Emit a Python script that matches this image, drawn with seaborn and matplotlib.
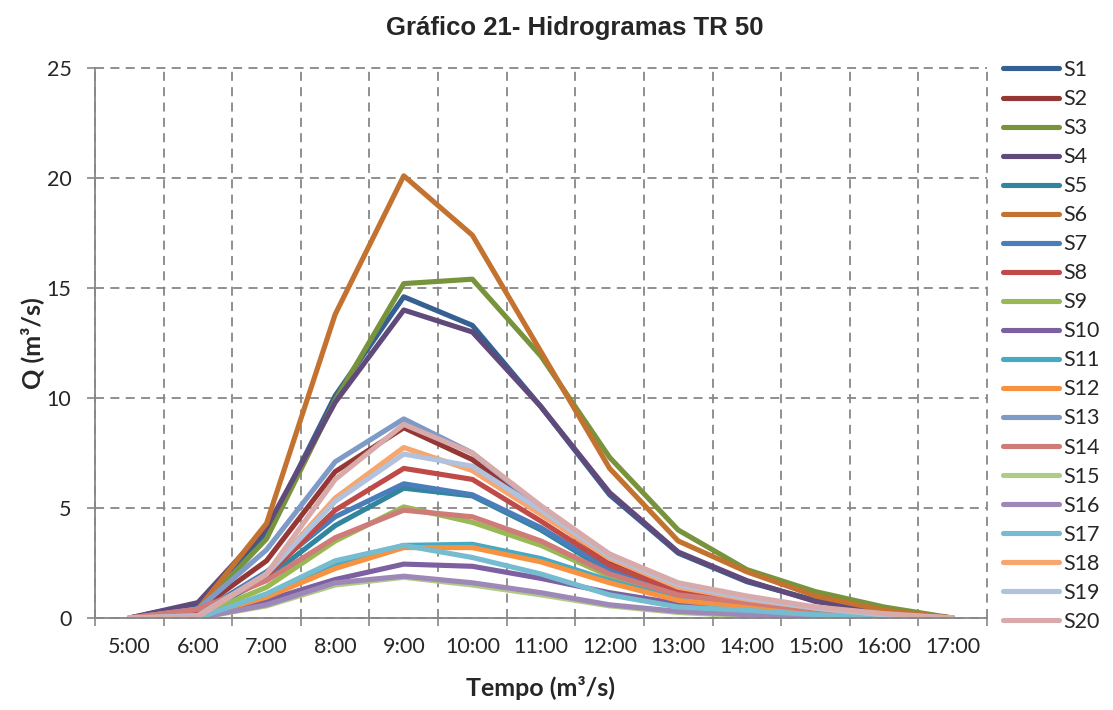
import pandas as pd
import matplotlib
matplotlib.use("Agg")
import matplotlib.pyplot as plt
import seaborn as sns
from matplotlib.ticker import FixedLocator, NullFormatter

times = ['5:00', '6:00', '7:00', '8:00', '9:00', '10:00', '11:00', '12:00',
         '13:00', '14:00', '15:00', '16:00', '17:00']

S1 = [0, 0.65, 3.9, 10.1, 14.6, 13.3, 9.6, 5.6, 2.95, 1.65, 0.8, 0.25, 0]
S2 = [0, 0.35, 2.6, 6.65, 8.65, 7.2, 4.8, 2.6, 1.3, 0.8, 0.4, 0.15, 0]
S3 = [0, 0.3, 3.6, 9.9, 15.2, 15.4, 11.9, 7.3, 4.0, 2.2, 1.2, 0.5, 0]
S4 = [0, 0.7, 4.1, 9.8, 14.0, 13.0, 9.6, 5.7, 3.0, 1.7, 0.75, 0.3, 0]
S5 = [0, 0.15, 1.8, 4.2, 5.9, 5.55, 4.0, 2.1, 1.05, 0.65, 0.3, 0.1, 0]
S6 = [0, 0.4, 4.3, 13.8, 20.1, 17.4, 12.1, 6.8, 3.5, 2.1, 1.0, 0.35, 0]
S7 = [0, 0.2, 2.1, 4.6, 6.1, 5.6, 4.1, 2.2, 1.1, 0.7, 0.3, 0.1, 0]
S8 = [0, 0.2, 1.9, 4.9, 6.8, 6.3, 4.4, 2.4, 1.2, 0.75, 0.35, 0.1, 0]
S9 = [0, 0.1, 1.4, 3.5, 5.05, 4.35, 3.3, 1.9, 1.0, 0.6, 0.3, 0.1, 0]
S10 = [0, 0.05, 0.8, 1.75, 2.45, 2.35, 1.8, 1.15, 0.65, 0.4, 0.2, 0.05, 0]
S11 = [0, 0.05, 1.0, 2.45, 3.3, 3.35, 2.7, 1.7, 0.85, 0.5, 0.25, 0.05, 0]
S12 = [0, 0.05, 0.95, 2.25, 3.2, 3.2, 2.55, 1.6, 0.8, 0.5, 0.25, 0.05, 0]
S13 = [0, 0.4, 3.1, 7.1, 9.05, 7.5, 5.0, 2.9, 1.5, 0.9, 0.45, 0.15, 0]
S14 = [0, 0.4, 1.7, 3.65, 4.9, 4.6, 3.5, 2.0, 1.05, 0.7, 0.35, 0.1, 0]
S15 = [0, 0.0, 0.55, 1.5, 1.85, 1.5, 1.05, 0.55, 0.25, 0.1, 0.05, 0.0, 0]
S16 = [0, 0.0, 0.6, 1.6, 1.9, 1.6, 1.15, 0.6, 0.3, 0.15, 0.05, 0.0, 0]
S17 = [0, 0.0, 1.1, 2.6, 3.3, 2.75, 2.0, 1.05, 0.5, 0.35, 0.15, 0.05, 0]
S18 = [0, 0.1, 2.0, 5.45, 7.75, 6.7, 4.7, 2.7, 1.4, 0.85, 0.45, 0.15, 0]
S19 = [0, 0.1, 2.0, 5.3, 7.45, 6.9, 4.9, 2.8, 1.5, 0.9, 0.45, 0.15, 0]
S20 = [0, 0.05, 2.0, 6.3, 8.8, 7.5, 5.1, 2.9, 1.6, 1.0, 0.5, 0.2, 0]

series = [S1, S2, S3, S4, S5, S6, S7, S8, S9, S10,
          S11, S12, S13, S14, S15, S16, S17, S18, S19, S20]
names = ['S%d' % (i + 1) for i in range(len(series))]

colors = ['#376092', '#953735', '#77933C', '#604A7B', '#31859C', '#C3732F',
          '#4A7EBB', '#BE4B48', '#98B954', '#7D60A0', '#46AAC5', '#F69240',
          '#7E9BC8', '#CE7B79', '#B0CB86', '#9E88B8', '#75BCD0', '#F8A56E',
          '#B0C2DD', '#D9AAAA']

rows = []
for name, vals in zip(names, series):
    for i, v in enumerate(vals):
        rows.append({'serie': name, 'pos': i, 'Q': v})
df = pd.DataFrame(rows)

sns.set_style("white")
plt.rcParams['font.family'] = ['Lato', 'DejaVu Sans']

fig = plt.figure(figsize=(11.13, 7.10), dpi=100)
ax = fig.add_axes([95 / 1113, 1 - 618 / 710, (987 - 95) / 1113, (618 - 68) / 710])

sns.lineplot(data=df, x='pos', y='Q', hue='serie', hue_order=names,
             palette=colors, linewidth=3.7, sort=False, legend=False,
             solid_capstyle='round', solid_joinstyle='round', ax=ax)

grid_c = '#878787'
ax.set_xlim(-0.5, len(times) - 0.5)
ax.set_ylim(0, 25)
ax.xaxis.set_major_locator(FixedLocator([i - 0.5 for i in range(len(times) + 1)]))
ax.xaxis.set_major_formatter(NullFormatter())
ax.xaxis.set_minor_locator(FixedLocator(list(range(len(times)))))
ax.set_xticklabels(times, minor=True)
ax.set_yticks([0, 5, 10, 15, 20, 25])
ax.tick_params(axis='x', which='major', length=6, width=1.2, color=grid_c, direction='out', bottom=True)
ax.tick_params(axis='x', which='minor', length=0, labelsize=15.5, pad=14)
ax.tick_params(axis='y', which='major', length=6, width=1.2, color=grid_c, direction='out', left=True,
               labelsize=15.5, pad=11)

ax.grid(True, which='major', color=grid_c, linestyle=(0, (5, 3.5)), linewidth=1.3)
ax.set_axisbelow(True)
for s in ['top', 'right']:
    ax.spines[s].set_visible(False)
for s in ['left', 'bottom']:
    ax.spines[s].set_color(grid_c)
    ax.spines[s].set_linewidth(1.3)
for gl in ax.xaxis.get_gridlines() + ax.yaxis.get_gridlines():
    gl.set_clip_on(False)

ax.set_xlabel('Tempo (m³/s)', fontsize=18, fontweight='bold', labelpad=13)
ax.set_ylabel('Q (m³/s)', fontsize=18, fontweight='bold', labelpad=2)

fig.text(575 / 1113, 1 - 28 / 710, 'Gráfico 21- Hidrogramas TR 50', ha='center', va='center',
         fontsize=18.5, fontweight='bold', family=['Liberation Sans', 'DejaVu Sans'])

handles = ax.get_lines()[:len(names)]
fig.legend(handles, names, loc='upper left', bbox_to_anchor=(1003 / 1113, 1 - 60 / 710),
           frameon=False, fontsize=15.5, handlelength=2.6, handletextpad=0.2,
           labelspacing=0.42, borderpad=0, borderaxespad=0)

fig.savefig('out.png', dpi=100)
plt.close(fig)
